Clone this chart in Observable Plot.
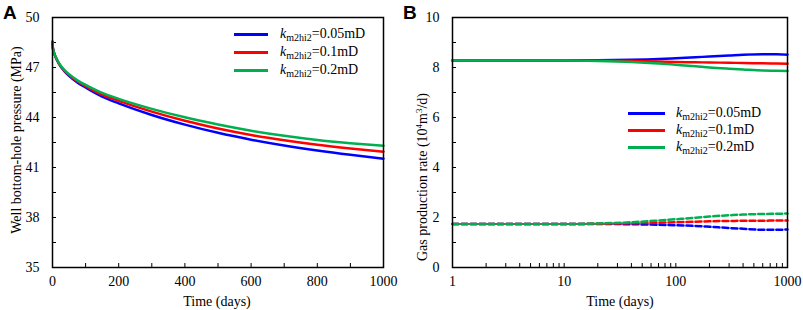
<!DOCTYPE html>
<html><head><meta charset="utf-8">
<script src="https://cdn.jsdelivr.net/npm/d3@7"></script>
<script src="https://cdn.jsdelivr.net/npm/@observablehq/plot@0.6"></script>
<style>
body{margin:0;background:#fff;}
#wrap{position:relative;width:803px;height:310px;font-family:"Liberation Serif","Times New Roman",serif;color:#000;overflow:hidden;}
.panel{position:absolute;top:0;}
.tag{position:absolute;font-family:"Liberation Sans",Arial,sans-serif;font-weight:bold;font-size:19px;line-height:1;}
.ylab{position:absolute;font-size:14px;white-space:nowrap;transform:translate(-50%,-50%) rotate(-90deg);line-height:1;}
.xlab{position:absolute;font-size:14px;white-space:nowrap;transform:translate(-50%,-50%);line-height:1;}
.legline{position:absolute;height:3px;}
.legtxt{position:absolute;font-size:14px;white-space:nowrap;transform:translateY(-50%);line-height:1;}
.legtxt sub{font-size:10px;vertical-align:-3px;line-height:0;}
sup{font-size:9px;vertical-align:5px;line-height:0;}
</style></head>
<body><div id="wrap"></div>
<script>
// ---- data ----
const kLabels = ["0.05mD", "0.1mD", "0.2mD"];
const daysA = [0, 1, 3, 6, 10, 20, 35, 50, 75, 100, 150, 200, 300, 400, 500, 600, 700, 800, 900, 1000];
const pBlue  = [48.55, 48.2, 48.0, 47.8, 47.6, 47.2, 46.8, 46.5, 46.1, 45.8, 45.25, 44.85, 44.15, 43.57, 43.08, 42.67, 42.32, 42.02, 41.76, 41.53];
const pRed   = [48.55, 48.2, 48.0, 47.8, 47.6, 47.22, 46.83, 46.55, 46.17, 45.88, 45.37, 45.0, 44.35, 43.8, 43.34, 42.95, 42.63, 42.36, 42.14, 41.95];
const pGreen = [48.55, 48.2, 48.0, 47.8, 47.62, 47.25, 46.87, 46.6, 46.23, 45.96, 45.48, 45.12, 44.52, 44.01, 43.58, 43.21, 42.9, 42.65, 42.46, 42.3];

const daysB = [1, 3, 10, 20, 40, 70, 100, 150, 200, 300, 400, 600, 800, 1000];
const qBlue  = [8.28, 8.28, 8.28, 8.29, 8.31, 8.34, 8.37, 8.41, 8.44, 8.48, 8.51, 8.53, 8.53, 8.51];
const qRed   = [8.28, 8.28, 8.28, 8.27, 8.26, 8.24, 8.22, 8.21, 8.20, 8.19, 8.18, 8.17, 8.16, 8.15];
const qGreen = [8.28, 8.28, 8.28, 8.26, 8.22, 8.16, 8.11, 8.05, 8.00, 7.95, 7.92, 7.88, 7.87, 7.86];
const dBlue  = [1.74, 1.74, 1.74, 1.74, 1.73, 1.71, 1.69, 1.66, 1.63, 1.58, 1.55, 1.51, 1.51, 1.52];
const dRed   = [1.74, 1.74, 1.74, 1.75, 1.77, 1.79, 1.81, 1.83, 1.85, 1.86, 1.87, 1.87, 1.88, 1.88];
const dGreen = [1.74, 1.74, 1.74, 1.76, 1.81, 1.88, 1.93, 1.99, 2.04, 2.09, 2.12, 2.14, 2.15, 2.16];

const xTicksA = [0, 200, 400, 600, 800, 1000];
const yTicksA = [35, 38, 41, 44, 47, 50];
const xTicksB = [1, 10, 100, 1000];
const yTicksB = [0, 2, 4, 6, 8, 10];

// ---- styles ----
const colors = ["#0000ff", "#ff0000", "#00b050"];

const rowsA = [];
[pBlue, pRed, pGreen].forEach((arr, i) => arr.forEach((p, j) => rowsA.push({t: daysA[j], p, k: kLabels[i]})));
const rowsBs = [], rowsBd = [];
[qBlue, qRed, qGreen].forEach((arr, i) => arr.forEach((q, j) => rowsBs.push({t: daysB[j], q, k: kLabels[i]})));
[dBlue, dRed, dGreen].forEach((arr, i) => arr.forEach((q, j) => rowsBd.push({t: daysB[j], q, k: kLabels[i]})));

const minorA_x = d3.range(0, 1001, 100);
const minorA_y = d3.range(35, 50.01, 1.5).map(v => +v.toFixed(1));
const minorB_x = [];
for (const p of [1, 10, 100]) for (let m = 1; m < 10; m++) minorB_x.push(m * p);
minorB_x.push(1000);
const minorB_y = d3.range(0, 11, 1);

const baseStyle = {fontFamily: "'Liberation Serif','Times New Roman',serif", fontSize: "14px", color: "#000", background: "transparent", overflow: "visible"};

const plotA = Plot.plot({
  width: 403, height: 310, marginLeft: 52, marginRight: 20, marginTop: 17, marginBottom: 43,
  style: baseStyle,
  x: {domain: [0, 1000]},
  y: {domain: [35, 50]},
  color: {domain: kLabels, range: colors},
  marks: [
    Plot.axisX({ticks: minorA_x, tickSize: -4, tickPadding: 13, tickFormat: d => xTicksA.includes(d) ? String(d) : "", label: null}),
    Plot.axisY({ticks: minorA_y, tickSize: -4, tickPadding: 17, tickFormat: d => yTicksA.includes(d) ? String(d) : "", label: null}),
    Plot.line(rowsA, {x: "t", y: "p", z: "k", stroke: "k", strokeWidth: 2.5, curve: "monotone-x"}),
    Plot.frame({stroke: "#000", strokeWidth: 1.5})
  ]
});
plotA.classList.add("panel"); plotA.style.left = "0px";

const plotB = Plot.plot({
  width: 403, height: 310, marginLeft: 52, marginRight: 16, marginTop: 17, marginBottom: 43,
  style: baseStyle,
  x: {type: "log", domain: [1, 1000]},
  y: {domain: [0, 10]},
  color: {domain: kLabels, range: colors},
  marks: [
    Plot.axisX({ticks: minorB_x, tickSize: -4, tickPadding: 13, tickFormat: d => xTicksB.includes(d) ? String(d) : "", label: null}),
    Plot.axisY({ticks: minorB_y, tickSize: -4, tickPadding: 17, tickFormat: d => yTicksB.includes(d) ? String(d) : "", label: null}),
    Plot.line(rowsBs, {x: "t", y: "q", z: "k", stroke: "k", strokeWidth: 2.5, curve: "monotone-x"}),
    Plot.line(rowsBd, {x: "t", y: "q", z: "k", stroke: "k", strokeWidth: 2.5, strokeDasharray: "6,3", curve: "monotone-x"}),
    Plot.frame({stroke: "#000", strokeWidth: 1.5})
  ]
});
plotB.classList.add("panel"); plotB.style.left = "400px";

const wrap = document.getElementById("wrap");
wrap.appendChild(plotA);
wrap.appendChild(plotB);

function addHTML(cls, html, style) {
  const d = document.createElement("div");
  d.className = cls; d.innerHTML = html;
  Object.assign(d.style, style);
  wrap.appendChild(d);
  return d;
}
addHTML("tag", "A", {left: "3px", top: "3px"});
addHTML("tag", "B", {left: "403px", top: "3px"});
addHTML("ylab", "Well bottom-hole pressure (MPa)", {left: "17px", top: "140px"});
addHTML("ylab", "Gas production rate (10<sup>4</sup>m<sup>3</sup>/d)", {left: "423px", top: "177px"});
addHTML("xlab", "Time (days)", {left: "217px", top: "302px"});
addHTML("xlab", "Time (days)", {left: "620px", top: "302px"});

function legend(x0, x1, tx, ys) {
  kLabels.forEach((k, i) => {
    addHTML("legline", "", {left: x0 + "px", width: (x1 - x0) + "px", top: (ys[i] - 1.5) + "px", background: colors[i]});
    addHTML("legtxt", `<i>k</i><sub>m2hi2</sub>=${k}`, {left: tx + "px", top: ys[i] + "px"});
  });
}
legend(234, 268, 280, [34, 52, 70]);
legend(628, 665, 676, [113, 130, 147]);
</script></body></html>
